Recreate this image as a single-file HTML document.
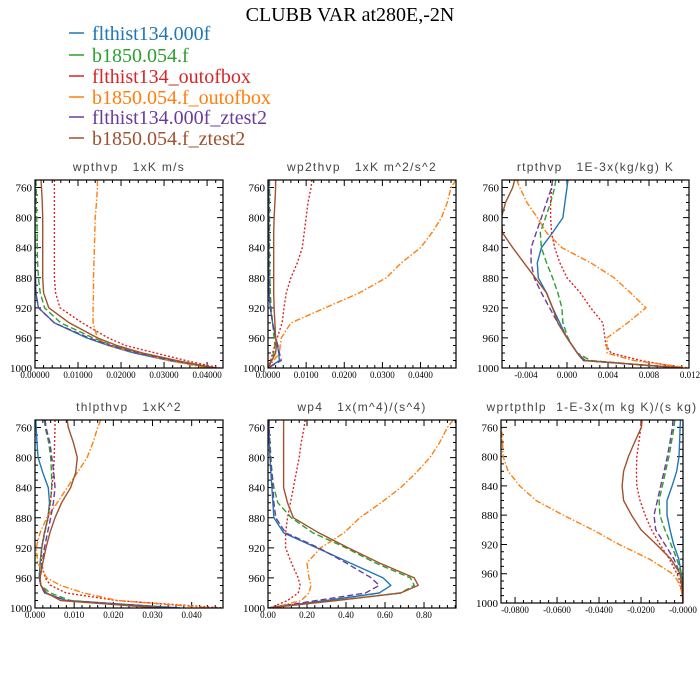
<!DOCTYPE html>
<html><head><meta charset="utf-8"><style>
html,body{margin:0;padding:0;background:#fff}
svg{display:block}
.ttl{font-family:"Liberation Serif",serif;font-size:20px}
.leg{font-family:"Liberation Serif",serif;font-size:20px}
.pt{font-family:"Liberation Sans",sans-serif;font-size:12px;fill:#444;letter-spacing:1.3px;white-space:pre}
.yl{font-family:"Liberation Serif",serif;font-size:11px}
.xl{font-family:"Liberation Serif",serif;font-size:9px}
</style></head><body>
<svg id="chart" width="700" height="700" viewBox="0 0 700 700">
<text class="ttl" x="350" y="21" text-anchor="middle">CLUBB VAR at280E,-2N</text>
<g id="legend"></g>
<g id="panels"></g>
</svg>
<script>
const levels=[750,760,780,800,820,840,860,880,900,920,940,960,970,980,990,1000];
const seriesNames=["flthist134.000f","b1850.054.f","flthist134_outofbox","b1850.054.f_outofbox","flthist134.000f_ztest2","b1850.054.f_ztest2"];
const colors=["#1f77b4","#2ca02c","#d62728","#ff7f0e","#6a3d9a","#a0522d"];
const dashes=["","6,3","2,2","6,2,1.5,2","6,3",""];
const yTicks=[760,800,840,880,920,960,1000];

const p1Ticks=["0.00000","0.01000","0.02000","0.03000","0.04000"];
const p1Blue=[0,0,0,0,0,0,0,0.0001,0.0002,0.0008,0.0045,0.012,0.017,0.023,0.031,0.042];
const p1Green=[0.0002,0.0003,0.0003,0.0004,0.0005,0.0005,0.0006,0.0008,0.0012,0.0022,0.006,0.0135,0.018,0.024,0.032,0.041];
const p1Red=[0.0045,0.0045,0.0045,0.0045,0.0045,0.0045,0.0045,0.0045,0.0048,0.0058,0.011,0.017,0.021,0.028,0.035,0.043];
const p1Orange=[0.0145,0.0145,0.0143,0.014,0.0139,0.0138,0.0137,0.0136,0.0136,0.0135,0.0135,0.0145,0.017,0.024,0.031,0.040];
const p1Purple=[0,0,0,0,0,0,0,0.0001,0.0002,0.0008,0.0045,0.0125,0.0175,0.024,0.032,0.042];
const p1Brown=[0.0014,0.0015,0.0017,0.0018,0.0018,0.0018,0.0018,0.0018,0.002,0.0032,0.008,0.0145,0.019,0.025,0.033,0.042];

const p2Ticks=["0.0000","0.0100","0.0200","0.0300","0.0400"];
const p2Blue=[0.0002,0.0002,0.0002,0.0002,0.0002,0.0002,0.0002,0.0002,0.0003,0.0006,0.0012,0.002,0.0025,0.0028,0.003,0];
const p2Green=[0.0004,0.0004,0.0004,0.0004,0.0004,0.0004,0.0004,0.0005,0.0006,0.0008,0.0012,0.0016,0.0018,0.0015,0.0008,0];
const p2Red=[0.0115,0.0113,0.0105,0.010,0.0095,0.009,0.0077,0.006,0.0048,0.0042,0.0037,0.0024,0.0018,0.0012,0.0007,0];
const p2Orange=[0.0493,0.048,0.047,0.0455,0.043,0.040,0.035,0.031,0.024,0.015,0.006,0.0035,0.0032,0.003,0.0015,0];
const p2Purple=[0.0002,0.0002,0.0002,0.0002,0.0002,0.0002,0.0002,0.0002,0.0003,0.0006,0.0012,0.002,0.0026,0.003,0.0035,0];
const p2Brown=[0.002,0.002,0.0018,0.0016,0.0015,0.0015,0.0015,0.0015,0.0015,0.0016,0.0018,0.002,0.0022,0.002,0.001,0];

const p3Ticks=["-0.004","0.000","0.004","0.008","0.012"];
const p3Blue=[0.0001,0,-0.0002,-0.0004,-0.0014,-0.0025,-0.0029,-0.0028,-0.002,-0.0014,-0.0007,0,0.0005,0.001,0.0016,0.0113];
const p3Green=[-0.0011,-0.0012,-0.0016,-0.0021,-0.0026,-0.0025,-0.002,-0.0014,-0.0009,-0.0005,-0.0004,0.0001,0.0005,0.001,0.0023,0.0109];
const p3Red=[-0.0014,-0.0015,-0.0016,-0.0016,-0.0015,-0.0012,-0.0007,0,0.0013,0.0023,0.0035,0.0037,0.0038,0.0043,0.0072,0.0113];
const p3Orange=[-0.0049,-0.0046,-0.0039,-0.0029,-0.002,-0.0005,0.0023,0.0046,0.0062,0.0077,0.0059,0.0039,0.0039,0.0039,0.0065,0.012];
const p3Purple=[-0.0014,-0.0015,-0.002,-0.0025,-0.003,-0.0035,-0.0035,-0.0032,-0.0025,-0.0017,-0.0009,0,0.0005,0.001,0.0016,0.011];
const p3Brown=[-0.0051,-0.0053,-0.006,-0.0064,-0.0063,-0.0053,-0.0042,-0.0031,-0.002,-0.0014,-0.0009,0,0.0005,0.001,0.0018,0.0113];

const p4Ticks=["0.000","0.010","0.020","0.030","0.040"];
const p4Blue=[0.0002,0.0003,0.0005,0.0008,0.002,0.0034,0.0037,0.0033,0.0024,0.0017,0.0013,0.0011,0.0015,0.0025,0.008,0.037];
const p4Green=[0.0024,0.0026,0.0035,0.004,0.0042,0.0043,0.0039,0.0033,0.0025,0.0017,0.0013,0.0011,0.0015,0.0039,0.009,0.035];
const p4Red=[0.0051,0.0051,0.005,0.0049,0.0047,0.0043,0.0039,0.0034,0.0024,0.0017,0.0016,0.0026,0.004,0.008,0.0208,0.048];
const p4Orange=[0.0168,0.016,0.0148,0.0133,0.0108,0.0082,0.0057,0.003,0.0013,0.0003,0.0007,0.003,0.0065,0.0124,0.021,0.045];
const p4Purple=[0.0026,0.0028,0.0038,0.0043,0.0048,0.0051,0.0047,0.004,0.0032,0.0024,0.0019,0.0011,0.0015,0.0025,0.008,0.036];
const p4Brown=[0.0082,0.0085,0.0098,0.0108,0.0104,0.0091,0.0068,0.0051,0.0038,0.0028,0.002,0.0013,0.0015,0.003,0.0065,0.032];

const p5Ticks=["0.00","0.20","0.40","0.60","0.80"];
const p5Blue=[0.005,0.005,0.007,0.01,0.015,0.02,0.025,0.03,0.08,0.25,0.42,0.59,0.63,0.57,0.3,0];
const p5Green=[0.005,0.005,0.01,0.015,0.02,0.03,0.05,0.12,0.23,0.40,0.55,0.73,0.75,0.68,0.35,0];
const p5Red=[0.19,0.185,0.17,0.16,0.145,0.13,0.115,0.1,0.09,0.09,0.12,0.155,0.165,0.155,0.1,0.01];
const p5Orange=[0.95,0.92,0.88,0.83,0.76,0.68,0.58,0.47,0.39,0.27,0.2,0.21,0.22,0.21,0.17,0.02];
const p5Purple=[0.005,0.005,0.008,0.012,0.02,0.025,0.03,0.04,0.09,0.26,0.40,0.53,0.57,0.5,0.25,0];
const p5Brown=[0.08,0.08,0.08,0.08,0.08,0.08,0.1,0.13,0.26,0.41,0.57,0.75,0.77,0.68,0.35,0];

const p6Ticks=["-0.0800","-0.0600","-0.0400","-0.0200","-0.0000"];
const p6Blue=[-0.0012,-0.0014,-0.0016,-0.0019,-0.003,-0.0052,-0.0076,-0.0076,-0.0062,-0.0045,-0.002,-0.0008,-0.0005,-0.0003,-0.0001,0];
const p6Green=[-0.004,-0.0043,-0.0055,-0.0067,-0.0083,-0.0098,-0.0114,-0.011,-0.0086,-0.0057,-0.0029,-0.0008,-0.0005,-0.0003,-0.0001,0];
const p6Red=[-0.02,-0.0201,-0.021,-0.022,-0.0222,-0.022,-0.0205,-0.018,-0.015,-0.011,-0.0065,-0.0029,-0.0015,-0.0008,-0.0003,0];
const p6Orange=[-0.087,-0.0865,-0.086,-0.0857,-0.0833,-0.0778,-0.07,-0.057,-0.043,-0.0305,-0.016,-0.005,-0.0025,-0.001,-0.0003,0];
const p6Purple=[-0.0048,-0.005,-0.0062,-0.0075,-0.009,-0.0106,-0.0122,-0.0138,-0.013,-0.0086,-0.0043,-0.0014,-0.0008,-0.0004,-0.0001,0];
const p6Brown=[-0.0195,-0.0198,-0.023,-0.026,-0.0283,-0.029,-0.0283,-0.0245,-0.02,-0.0127,-0.0057,-0.0014,-0.0008,-0.0004,-0.0001,0];

const NS="http://www.w3.org/2000/svg";
function mk(tag,attrs,parent){const e=document.createElementNS(NS,tag);for(const k in attrs)e.setAttribute(k,attrs[k]);parent.appendChild(e);return e;}

const panels=[
 {id:"wpthvp",title:"wpthvp   1xK m/s",box:[35,180,223,368],xr:[0,0.0437],tv:[0,0.01,0.02,0.03,0.04],tl:p1Ticks,s:[p1Blue,p1Green,p1Red,p1Orange,p1Purple,p1Brown]},
 {id:"wp2thvp",title:"wp2thvp   1xK m^2/s^2",box:[268,180,456,368],xr:[0,0.0493],tv:[0,0.01,0.02,0.03,0.04],tl:p2Ticks,s:[p2Blue,p2Green,p2Red,p2Orange,p2Purple,p2Brown]},
 {id:"rtpthvp",title:"rtpthvp   1E-3x(kg/kg) K",box:[502,180,689,368],xr:[-0.00634,0.0119],tv:[-0.004,0,0.004,0.008,0.012],tl:p3Ticks,s:[p3Blue,p3Green,p3Red,p3Orange,p3Purple,p3Brown]},
 {id:"thlpthvp",title:"thlpthvp   1xK^2",box:[35,420,223,608],xr:[0,0.048],tv:[0,0.01,0.02,0.03,0.04],tl:p4Ticks,s:[p4Blue,p4Green,p4Red,p4Orange,p4Purple,p4Brown]},
 {id:"wp4",title:"wp4   1x(m^4)/(s^4)",box:[268,420,456,608],xr:[0,0.964],tv:[0,0.2,0.4,0.6,0.8],tl:p5Ticks,s:[p5Blue,p5Green,p5Red,p5Orange,p5Purple,p5Brown]},
 {id:"wprtpthlp",title:"wprtpthlp  1-E-3x(m kg K)/(s kg)",box:[501,420,683,603],xr:[-0.0867,0],tv:[-0.08,-0.06,-0.04,-0.02,0],tl:p6Ticks,s:[p6Blue,p6Green,p6Red,p6Orange,p6Purple,p6Brown]}
];

const svg=document.getElementById("chart");
const lg=document.getElementById("legend");
const legY=[33,55,76,97,117,138];
seriesNames.forEach((n,i)=>{
 const l=mk("line",{x1:69,x2:84,y1:legY[i],y2:legY[i],stroke:colors[i],"stroke-width":1.5},lg);
 
 
 const t=mk("text",{x:92,y:legY[i]+7,fill:colors[i],class:"leg"},lg);
 t.textContent=n;
 
 
});

const pg=document.getElementById("panels");
panels.forEach(p=>{
 const [x0,y0,x1,y1]=p.box;
 const g=mk("g",{},pg);
 
 
 const xs=v=>x0+(v-p.xr[0])/(p.xr[1]-p.xr[0])*(x1-x0);
 const ys=v=>y0+(v-750)/250*(y1-y0);
 const t=mk("text",{x:(x0+x1)/2,y:y0-9,"text-anchor":"middle",class:"pt"},g);
 t.textContent=p.title;
 
 
 let d="";
 for(let v=760;v<=1000;v+=10){const y=ys(v);const L=(v%40===0)?6:3;d+=`M${x0} ${y}h${L}M${x1} ${y}h${-L}`;}
 const step=(p.tv[1]-p.tv[0])/5;
 for(let k=-10;k<60;k++){const v=p.tv[0]+k*step;if(v<p.xr[0]-1e-12||v>p.xr[1]+1e-12)continue;const x=xs(v);const L=(((k%5)+5)%5===0)?6:3;d+=`M${x} ${y0}v${L}M${x} ${y1}v${-L}`;}
 const tk=mk("path",{d:d,stroke:"#000","stroke-width":1,fill:"none"},g);
 
 
 yTicks.forEach(v=>{const e=mk("text",{x:x0-3,y:ys(v)+4,"text-anchor":"end",class:"yl"},g);e.textContent=v;
  
  });
 p.tv.forEach((v,i)=>{const e=mk("text",{x:xs(v),y:y1+10,"text-anchor":"middle",class:"xl"},g);e.textContent=p.tl[i];
  
  });
 const cid="clip-"+p.id;
 const cp=mk("clipPath",{id:cid},g);mk("rect",{x:x0,y:y0,width:x1-x0,height:y1-y0},cp);
 const sg=mk("g",{"clip-path":`url(#${cid})`},g);
 p.s.forEach((arr,i)=>{
  const pts=arr.map((v,j)=>xs(v).toFixed(1)+","+ys(levels[j]).toFixed(1)).join(" ");
  const a={points:pts,fill:"none",stroke:colors[i],"stroke-width":1.4,"stroke-linejoin":"round"};
  if(dashes[i])a["stroke-dasharray"]=dashes[i];
  const pl=mk("polyline",a,sg);
  
  
 });
 const fr=mk("rect",{x:x0,y:y0,width:x1-x0,height:y1-y0,fill:"none",stroke:"#000","stroke-width":1.2},g);
 
 
});
</script>
</body></html>
